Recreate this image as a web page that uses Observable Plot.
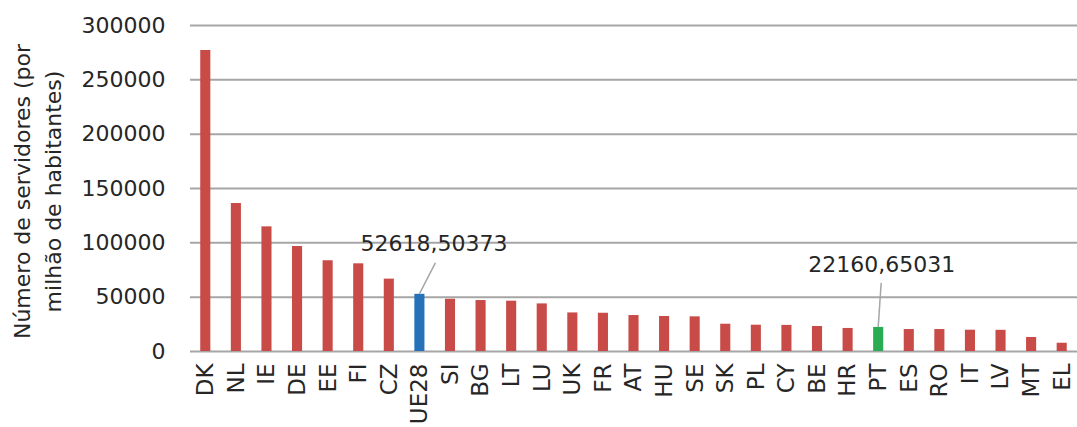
<!DOCTYPE html>
<html>
<head>
<meta charset="utf-8">
<script src="https://cdn.jsdelivr.net/npm/d3@7"></script>
<script src="https://cdn.jsdelivr.net/npm/@observablehq/plot@0.6"></script>
<style>
  html, body { margin: 0; padding: 0; background: #fff; }
  #chart svg { display: block; }
</style>
</head>
<body>
<div id="chart"></div>
<script>
const countries = ["DK","NL","IE","DE","EE","FI","CZ","UE28","SI","BG","LT","LU","UK","FR","AT","HU","SE","SK","PL","CY","BE","HR","PT","ES","RO","IT","LV","MT","EL"];
const values = [277000,136200,114700,96600,83500,80700,66600,52618.50373,48100,46900,46300,43800,35500,35200,33100,32200,31900,25100,24200,24000,23000,21200,22160.65031,20200,20200,19600,19500,12900,7600];
const yTicks = [0,50000,100000,150000,200000,250000,300000];
const yTitle = "Número de servidores (por\nmilhão de habitantes)";
const highlightCountries = ["UE28","PT"];
const highlightLabels = ["52618,50373","22160,65031"];
const baseColor = "#c84b47";
const highlightColors = {UE28: "#2771b8", PT: "#2aac54"};

const data = countries.map((c, i) => ({country: c, value: values[i]}));
const labelData = highlightCountries.map((c, i) => ({country: c, value: values[countries.indexOf(c)], label: highlightLabels[i]}));

// leader line offsets (pixels) from the bar top to the label
const leaders = {UE28: {dx: 16, dy: -31}, PT: {dx: 3, dy: -44}};

function leaderMark(index, scales) {
  const svg = d3.create("svg:g");
  const bw = scales.x.bandwidth ? scales.x.bandwidth() : 0;
  for (const d of labelData) {
    const x0 = scales.x(d.country) + bw / 2;
    const y0 = scales.y(d.value);
    const o = leaders[d.country];
    svg.append("line")
      .attr("x1", x0).attr("y1", y0)
      .attr("x2", x0 + o.dx).attr("y2", y0 + o.dy)
      .attr("stroke", "#a6a6a6").attr("stroke-width", 1.5);
  }
  return svg.node();
}

const chart = Plot.plot({
  width: 1077,
  height: 427,
  marginLeft: 190,
  marginRight: 0,
  marginTop: 25,
  marginBottom: 76,
  style: {fontFamily: "DejaVu Sans", fontSize: "22px", color: "#262626", background: "#fff", overflow: "visible"},
  x: {domain: countries, paddingInner: 0.67, paddingOuter: 0.335, align: 0.5, round: false, label: null},
  y: {domain: [0, 300000], label: null},
  marks: [
    Plot.ruleY(yTicks, {stroke: "#a6a6a6", strokeWidth: 2}),
    Plot.barY(data, {x: "country", y: "value", fill: d => highlightColors[d.country] || baseColor}),
    Plot.axisX({tickSize: 0, tickRotate: -90, tickPadding: 12, fontSize: 23, label: null}),
    Plot.axisY({ticks: yTicks, tickSize: 0, tickPadding: 25, tickFormat: d => String(d), fontSize: 22, label: null}),
    Plot.text([yTitle], {frameAnchor: "left", textAnchor: "middle", rotate: -90, dx: -155, dy: 3, lineHeight: 1.4, fontSize: 22, fill: "#262626"}),
    leaderMark,
    Plot.text(labelData.filter(d => d.country === "UE28"), {x: "country", y: "value", text: "label", dx: 14, dy: -50, fontSize: 22, fill: "#262626"}),
    Plot.text(labelData.filter(d => d.country === "PT"), {x: "country", y: "value", text: "label", dx: 3, dy: -62, fontSize: 22, fill: "#262626"})
  ]
});
document.getElementById("chart").appendChild(chart);
</script>
</body>
</html>
